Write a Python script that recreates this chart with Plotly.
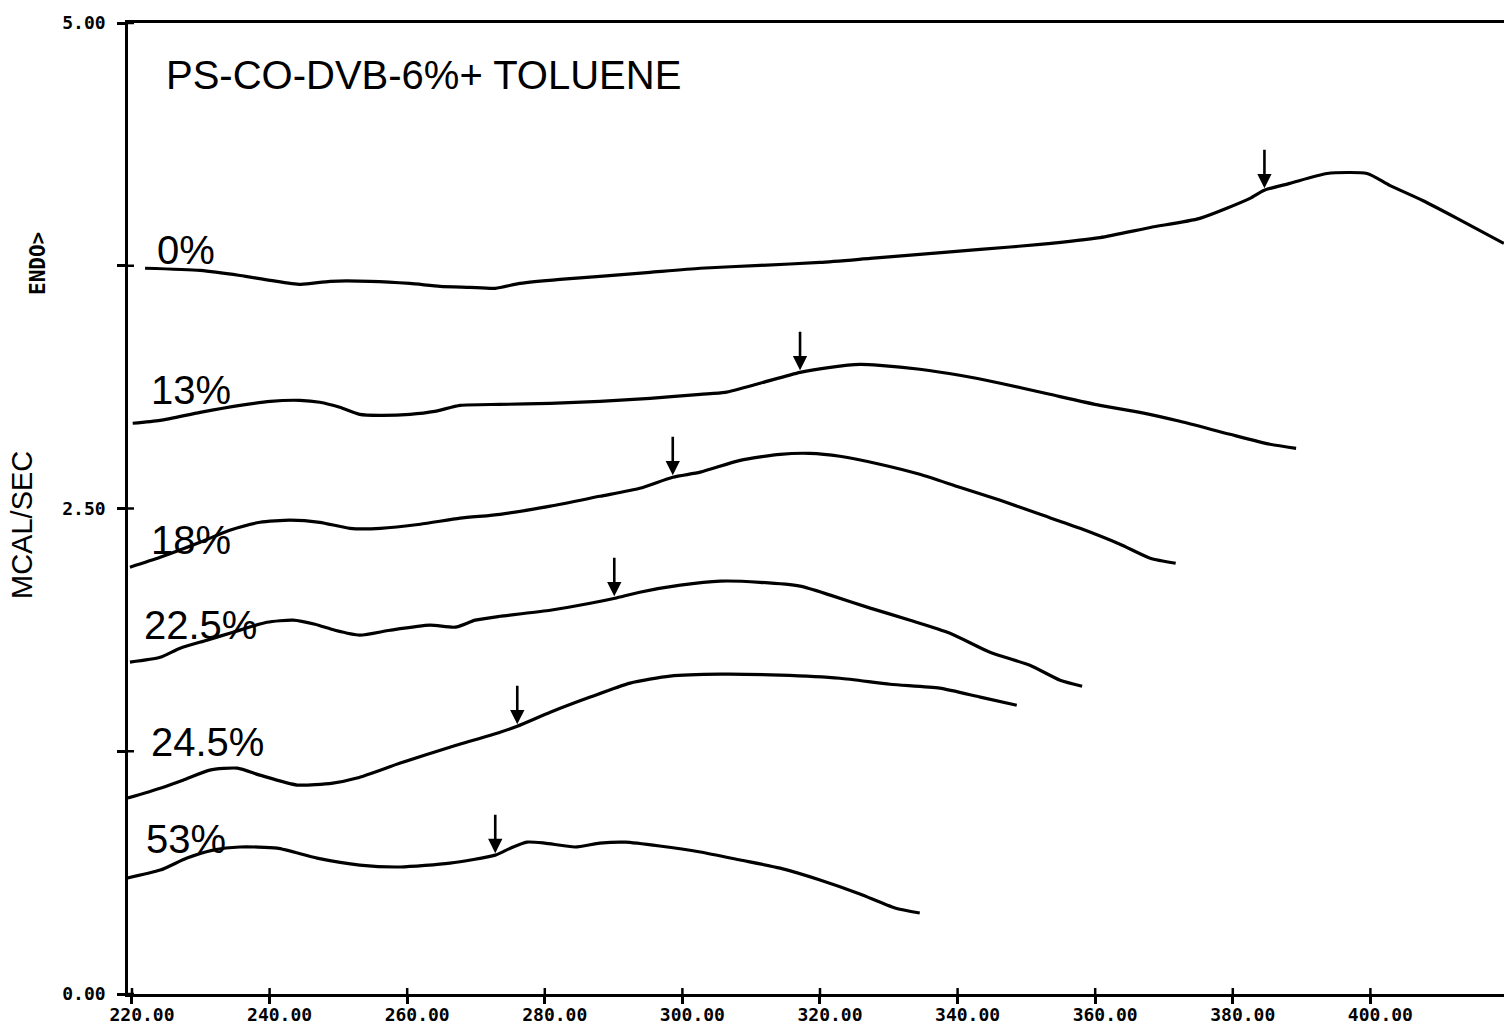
import numpy as np
import plotly.graph_objects as go

# DSC traces of PS-co-DVB (6%) swollen with toluene, by toluene content
labels = ["0%", "13%", "18%", "22.5%", "24.5%", "53%"]

t_0 = [221.9, 229.9, 235.7, 240.1, 244.5, 248.8, 254.6, 260.4, 264.8, 269.1, 272.8, 276.4,
       282.2, 288.0, 295.3, 302.6, 311.3, 320.0, 327.3, 334.5, 343.3, 352.0, 360.7, 368.0,
       375.2, 382.5, 384.5, 388.3, 393.7, 399.5, 402.8, 407.6, 412.6, 419.4]
q_0 = [3.737, 3.726, 3.700, 3.675, 3.654, 3.670, 3.670, 3.659, 3.644, 3.639, 3.634, 3.659,
       3.680, 3.695, 3.716, 3.737, 3.752, 3.767, 3.788, 3.809, 3.834, 3.860, 3.895, 3.947,
       3.994, 4.097, 4.138, 4.174, 4.225, 4.225, 4.164, 4.086, 3.994, 3.865]

t_13 = [220.1, 224.1, 229.9, 235.7, 240.1, 244.4, 247.3, 250.2, 253.1, 256.0, 260.4, 264.0,
        267.7, 273.5, 280.8, 288.0, 295.3, 302.6, 306.2, 311.3, 317.1, 321.5, 325.8, 328.7,
        334.5, 340.3, 346.2, 353.4, 360.7, 366.5, 372.3, 379.6, 385.4, 389.2]
q_13 = [2.939, 2.954, 2.995, 3.031, 3.052, 3.057, 3.047, 3.021, 2.985, 2.980, 2.985, 3.000,
        3.031, 3.036, 3.041, 3.052, 3.067, 3.088, 3.098, 3.145, 3.201, 3.227, 3.242, 3.237,
        3.217, 3.186, 3.145, 3.088, 3.031, 2.995, 2.949, 2.882, 2.831, 2.810]

t_18 = [219.7, 224.1, 229.9, 234.2, 238.6, 243.0, 247.3, 251.7, 256.1, 261.9, 267.7, 273.5,
        280.8, 288.0, 293.8, 298.6, 302.6, 308.4, 314.2, 318.5, 322.9, 328.7, 334.5, 340.3,
        346.2, 352.0, 357.8, 363.6, 368.0, 371.7]
q_18 = [2.198, 2.249, 2.326, 2.388, 2.429, 2.440, 2.429, 2.398, 2.398, 2.419, 2.450, 2.470,
        2.512, 2.563, 2.604, 2.661, 2.687, 2.748, 2.779, 2.784, 2.769, 2.728, 2.676, 2.609,
        2.542, 2.470, 2.398, 2.316, 2.244, 2.218]

t_225 = [219.7, 224.1, 227.0, 230.9, 234.7, 239.6, 243.4, 246.6, 249.5, 253.1, 257.5, 263.3,
         267.0, 269.9, 273.5, 280.8, 286.6, 290.2, 293.8, 299.7, 305.5, 311.3, 317.1, 321.5,
         327.3, 333.1, 338.9, 344.7, 350.5, 354.9, 358.1]
q_225 = [1.709, 1.734, 1.781, 1.822, 1.863, 1.914, 1.925, 1.904, 1.873, 1.848, 1.873, 1.899,
         1.889, 1.925, 1.945, 1.976, 2.012, 2.038, 2.069, 2.105, 2.126, 2.120, 2.100, 2.054,
         1.987, 1.925, 1.858, 1.760, 1.693, 1.616, 1.585]

t_245 = [219.4, 224.1, 227.4, 231.3, 235.3, 238.6, 244.0, 249.2, 252.7, 259.0, 266.2, 273.5,
         276.0, 280.8, 286.6, 292.4, 298.2, 305.5, 314.2, 322.9, 330.2, 337.4, 343.3, 348.6]
q_245 = [1.009, 1.060, 1.101, 1.153, 1.163, 1.127, 1.076, 1.086, 1.112, 1.189, 1.271, 1.348,
         1.379, 1.451, 1.529, 1.601, 1.637, 1.647, 1.642, 1.626, 1.595, 1.575, 1.529, 1.487]

t_53 = [219.3, 224.1, 228.0, 231.8, 235.7, 241.1, 246.9, 253.1, 259.0, 266.2, 272.8, 275.0,
        277.4, 280.0, 284.4, 288.0, 291.7, 296.7, 302.6, 308.4, 314.2, 320.0, 325.8, 330.9,
        334.5]
q_53 = [0.597, 0.638, 0.700, 0.741, 0.757, 0.751, 0.700, 0.664, 0.654, 0.674, 0.715, 0.751,
        0.782, 0.777, 0.757, 0.777, 0.782, 0.762, 0.731, 0.690, 0.648, 0.587, 0.515, 0.443,
        0.417]

# transition temperatures marked with arrows
t_mark = [384.6, 317.1, 298.6, 290.1, 276.0, 272.8]

# curve label anchor positions (left edge, vertical centre)
label_t = [223.4, 222.4, 222.4, 221.4, 222.4, 221.7]
label_q = [3.83, 3.11, 2.34, 1.90, 1.30, 0.80]

x_ticks = [220, 240, 260, 280, 300, 320, 340, 360, 380, 400]
x_ticktext = ["220.00", "240.00", "260.00", "280.00", "300.00",
              "320.00", "340.00", "360.00", "380.00", "400.00"]
y_ticks = [0, 1.25, 2.5, 3.75, 5]
y_ticktext = ["0.00", "", "2.50", "", "5.00"]

series_t = [t_0, t_13, t_18, t_225, t_245, t_53]
series_q = [q_0, q_13, q_18, q_225, q_245, q_53]

W, H = 1504, 1024
ML, MR, MT, MB = 128, 0, 23, 30
plot_w = W - ML - MR
plot_h = H - MT - MB

fig = go.Figure()
for t, q in zip(series_t, series_q):
    fig.add_trace(go.Scatter(x=t, y=q, mode="lines",
                             line=dict(color="black", width=3.2, shape="spline", smoothing=0.6),
                             hoverinfo="skip", showlegend=False))

annotations = []
for t, q, tm in zip(series_t, series_q, t_mark):
    qm = float(np.interp(tm, t, q))
    annotations.append(dict(x=tm, y=qm, xref="x", yref="y", text="", showarrow=True,
                            ax=0, ay=-42, arrowhead=2, arrowsize=1.1, arrowwidth=2.6,
                            arrowcolor="black", standoff=2))

label_font = dict(family="Liberation Sans, Arial, sans-serif", size=40, color="black")
for lab, lt, lq in zip(labels, label_t, label_q):
    annotations.append(dict(x=lt, y=lq, xref="x", yref="y", text=lab, showarrow=False,
                            xanchor="left", yanchor="middle", font=label_font))

annotations.append(dict(x=(164 - ML) / plot_w, y=(H - MB - 75) / plot_h, xref="paper", yref="paper",
                        text="PS-CO-DVB-6%+ TOLUENE", showarrow=False,
                        xanchor="left", yanchor="middle", font=label_font))
annotations.append(dict(x=(22 - ML) / plot_w, y=(H - MB - 525) / plot_h, xref="paper", yref="paper",
                        text="MCAL/SEC", showarrow=False, textangle=-90,
                        xanchor="center", yanchor="middle",
                        font=dict(family="Liberation Sans, Arial, sans-serif", size=29, color="black")))
annotations.append(dict(x=(38 - ML) / plot_w, y=(H - MB - 264) / plot_h, xref="paper", yref="paper",
                        text="<b>ENDO></b>", showarrow=False, textangle=-90,
                        xanchor="center", yanchor="middle",
                        font=dict(family="DejaVu Sans Mono, monospace", size=21, color="black")))

# inner halves of the crossing tick marks
shapes = []
for xv in x_ticks:
    shapes.append(dict(type="line", xref="x", yref="paper", x0=xv, x1=xv, y0=0, y1=6 / plot_h,
                       line=dict(color="black", width=2.5)))
for yv in y_ticks:
    shapes.append(dict(type="line", xref="paper", yref="y", x0=0, x1=6 / plot_w, y0=yv, y1=yv,
                       line=dict(color="black", width=2.5)))

tick_font = dict(family="DejaVu Sans Mono, monospace", size=18, color="black", weight="bold")

fig.update_layout(
    width=W, height=H,
    margin=dict(l=ML, r=MR, t=MT, b=MB),
    paper_bgcolor="white", plot_bgcolor="white",
    showlegend=False,
    annotations=annotations,
    shapes=shapes,
    xaxis=dict(range=[219.42, 419.42], tickvals=x_ticks, ticktext=x_ticktext,
               showgrid=False, zeroline=False, showline=True, linecolor="black", linewidth=2.5,
               mirror=True, ticks="outside", ticklen=7, tickwidth=2.5, tickcolor="black",
               tickfont=tick_font, ticklabelshift=10, ticklabelstandoff=-4, fixedrange=True),
    yaxis=dict(range=[0, 5], tickvals=y_ticks, ticktext=y_ticktext,
               showgrid=False, zeroline=False, showline=True, linecolor="black", linewidth=2.5,
               ticks="outside", ticklen=8, tickwidth=2.5, tickcolor="black",
               tickfont=tick_font, ticklabelstandoff=8, fixedrange=True),
)

fig.write_html("out.html")
